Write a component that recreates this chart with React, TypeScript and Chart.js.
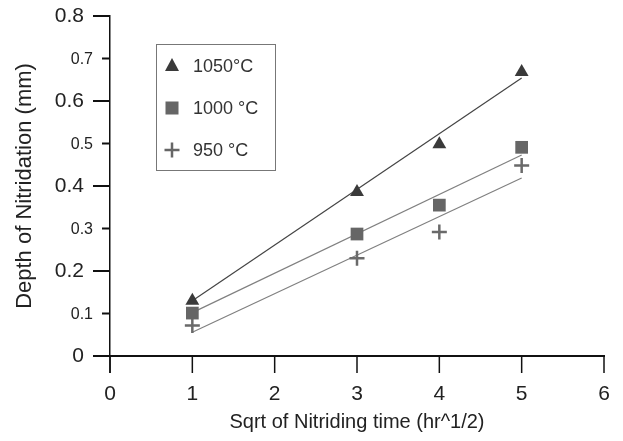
import React, { useEffect, useRef } from "react";
import { Chart, registerables } from "chart.js";

Chart.register(...registerables);

const xValues = [1, 3, 4, 5];
const depth1050 = [0.13, 0.386, 0.498, 0.668];
const depth1000 = [0.101, 0.287, 0.355, 0.491];
const depth950 = [0.072, 0.23, 0.292, 0.448];

const fitX = [1, 5];
const fit1050 = [0.13, 0.654];
const fit1000 = [0.102, 0.473];
const fit950 = [0.056, 0.419];

const legendLabels = ["1050°C", "1000 °C", "950 °C"];
const xTitle = "Sqrt of Nitriding time (hr^1/2)";
const yTitle = "Depth of Nitridation (mm)";

const FONT = "'Liberation Sans', Arial, Helvetica, sans-serif";

const toPts = (xs: number[], ys: number[]) => xs.map((x, i) => ({ x, y: ys[i] }));
const isMajor = (v: number) => Math.round(v * 10) % 2 === 0;

const tickPlugin = {
  id: "customTicks",
  afterDraw(chart: any) {
    const ctx = chart.ctx;
    const xs = chart.scales.x;
    const ys = chart.scales.y;
    const axisX = chart.chartArea.left;
    const axisY = chart.chartArea.bottom;
    ctx.save();
    ctx.strokeStyle = "#111";
    ctx.lineWidth = 1.5;
    ctx.beginPath();
    ctx.moveTo(axisX, axisY);
    ctx.lineTo(axisX, axisY + 17);
    ctx.stroke();
    ys.ticks.forEach((t: any) => {
      const py = ys.getPixelForValue(t.value);
      const major = isMajor(t.value);
      ctx.strokeStyle = "#111";
      ctx.lineWidth = 2;
      ctx.beginPath();
      ctx.moveTo(axisX - (major ? 17 : 8), py);
      ctx.lineTo(axisX, py);
      ctx.stroke();
      if (!major) {
        ctx.font = `16px ${FONT}`;
        ctx.fillStyle = "#222";
        ctx.textAlign = "right";
        ctx.textBaseline = "middle";
        ctx.fillText(Number(t.value).toFixed(1), axisX - 17, py + 1);
      }
    });
    xs.ticks.forEach((t: any) => {
      const px = xs.getPixelForValue(t.value);
      ctx.strokeStyle = "#111";
      ctx.lineWidth = 1.5;
      ctx.beginPath();
      ctx.moveTo(px, axisY);
      ctx.lineTo(px, axisY + 17);
      ctx.stroke();
    });
    const bx = 156, by = 44, bw = 119, bh = 126;
    ctx.strokeStyle = "#777";
    ctx.lineWidth = 1;
    ctx.strokeRect(bx + 0.5, by + 0.5, bw, bh);
    const rows = [66, 108, 150];
    ctx.font = `18px ${FONT}`;
    ctx.textBaseline = "middle";
    ctx.textAlign = "left";
    legendLabels.forEach((lab, i) => {
      const cy = rows[i];
      const cx = 172;
      if (i === 0) {
        ctx.fillStyle = "#3a3a3a";
        ctx.beginPath();
        ctx.moveTo(cx, cy - 8);
        ctx.lineTo(cx + 7, cy + 5);
        ctx.lineTo(cx - 7, cy + 5);
        ctx.closePath();
        ctx.fill();
      } else if (i === 1) {
        ctx.fillStyle = "#666";
        ctx.fillRect(cx - 6.5, cy - 6.5, 13, 13);
      } else {
        ctx.strokeStyle = "#666";
        ctx.lineWidth = 2.5;
        ctx.beginPath();
        ctx.moveTo(cx - 7.5, cy);
        ctx.lineTo(cx + 7.5, cy);
        ctx.moveTo(cx, cy - 7.5);
        ctx.lineTo(cx, cy + 7.5);
        ctx.stroke();
      }
      ctx.fillStyle = "#333";
      ctx.fillText(lab, 193, cy + 1);
    });
    ctx.restore();
  },
};

export default function App() {
  const ref = useRef<HTMLCanvasElement | null>(null);
  useEffect(() => {
    if (!ref.current) return;
    const chart = new Chart(ref.current, {
      type: "scatter",
      data: {
        datasets: [
          {
            label: "1050",
            data: toPts(xValues, depth1050),
            pointStyle: "triangle",
            pointRadius: 8,
            backgroundColor: "#3a3a3a",
            borderColor: "#3a3a3a",
            borderWidth: 0,
            order: 0,
          },
          {
            label: "1000",
            data: toPts(xValues, depth1000),
            pointStyle: "rect",
            pointRadius: 9,
            backgroundColor: "#666",
            borderColor: "#666",
            borderWidth: 0,
            order: 0,
          },
          {
            label: "950",
            data: toPts(xValues, depth950),
            pointStyle: "cross",
            pointRadius: 7.5,
            backgroundColor: "#6a6a6a",
            borderColor: "#6a6a6a",
            borderWidth: 2.5,
            order: 0,
          },
          {
            label: "fit1050",
            data: toPts(fitX, fit1050),
            showLine: true,
            pointRadius: 0,
            borderColor: "#444",
            borderWidth: 1.2,
            order: 1,
          },
          {
            label: "fit1000",
            data: toPts(fitX, fit1000),
            showLine: true,
            pointRadius: 0,
            borderColor: "#808080",
            borderWidth: 1.2,
            order: 1,
          },
          {
            label: "fit950",
            data: toPts(fitX, fit950),
            showLine: true,
            pointRadius: 0,
            borderColor: "#808080",
            borderWidth: 1.2,
            order: 1,
          },
        ],
      },
      options: {
        animation: false,
        responsive: true,
        maintainAspectRatio: false,
        layout: { padding: { top: 16, right: 19, left: 0, bottom: 0 } },
        plugins: { legend: { display: false }, tooltip: { enabled: false } },
        scales: {
          x: {
            type: "linear",
            min: 0,
            max: 6,
            afterFit: (s: any) => {
              s.height = 85;
            },
            ticks: {
              stepSize: 1,
              padding: 2,
              color: "#222",
              font: { family: FONT, size: 21 },
            },
            grid: { display: false, drawTicks: true, tickLength: 24 },
            border: { display: true, color: "#111", width: 2 },
            title: {
              display: true,
              text: xTitle,
              color: "#222",
              font: { family: FONT, size: 20 },
              padding: { top: 0, bottom: 7 },
            },
          },
          y: {
            type: "linear",
            min: 0,
            max: 0.8,
            afterFit: (s: any) => {
              s.width = 110;
            },
            ticks: {
              stepSize: 0.1,
              padding: 2,
              color: "#222",
              callback: (v: any) =>
                Math.abs(v) < 1e-9 ? "0" : isMajor(Number(v)) ? Number(v).toFixed(1) : "",
              font: { family: FONT, size: 21 },
            },
            grid: { display: false, drawTicks: true, tickLength: 24 },
            border: { display: true, color: "#111", width: 1.5 },
            title: {
              display: true,
              text: yTitle,
              color: "#222",
              font: { family: FONT, size: 22 },
              padding: { top: 12, bottom: 0 },
            },
          },
        },
      },
      plugins: [tickPlugin],
    });
    return () => chart.destroy();
  }, []);
  return (
    <div style={{ position: "fixed", left: 0, top: 0, width: 623, height: 441 }}>
      <canvas ref={ref} />
    </div>
  );
}
